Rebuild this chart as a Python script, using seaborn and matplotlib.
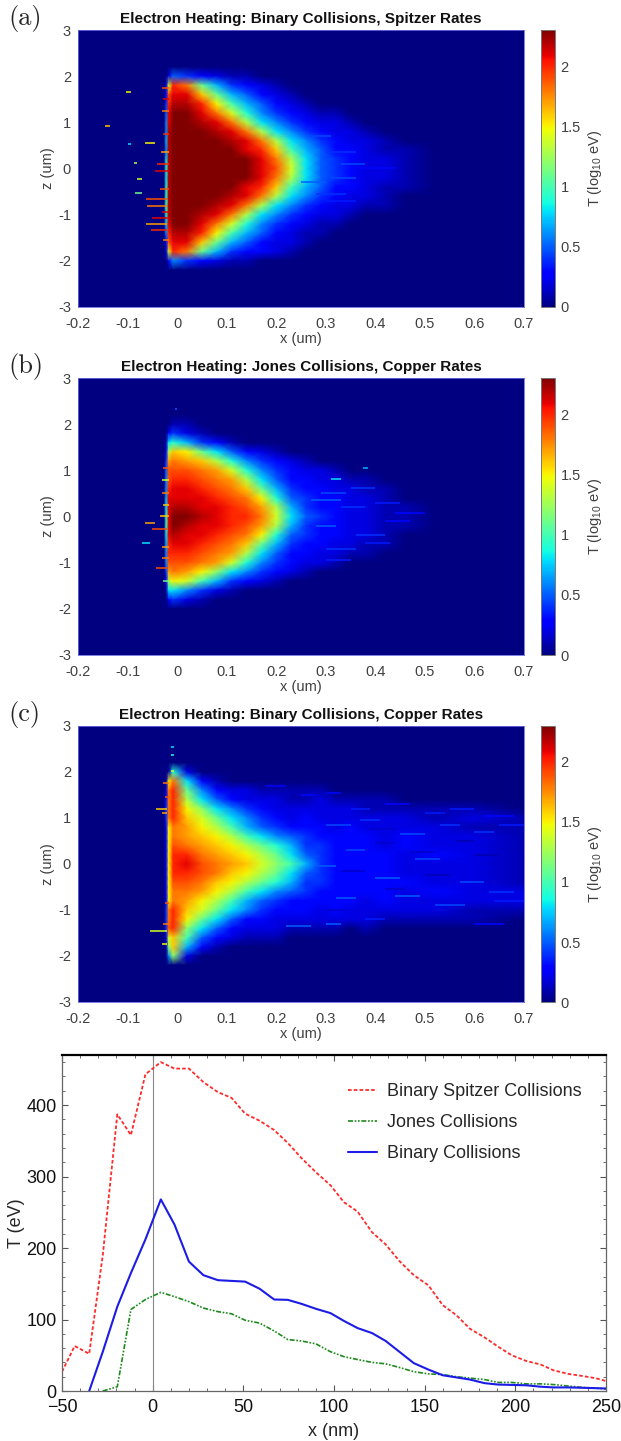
import matplotlib
matplotlib.use("Agg")
import matplotlib.pyplot as plt
import numpy as np
import seaborn as sns

W, H = 621, 1441

# Heatmap grid (x in um, z in um), values are log10 T in tenths
x_cols = [-0.2, -0.026, -0.022, -0.017, -0.008, 0.02, 0.05, 0.08, 0.11, 0.14, 0.17, 0.2,
          0.23, 0.26, 0.29, 0.32, 0.35, 0.38, 0.42, 0.46, 0.52, 0.6, 0.7]
z_rows = [3, 2.2, 2.0, 1.8, 1.6, 1.4, 1.2, 1.0, 0.8, 0.6, 0.4, 0.2, 0,
          -0.2, -0.4, -0.6, -0.8, -1.0, -1.2, -1.4, -1.6, -1.8, -2.0, -2.2, -3]

T_a = [
    [0] * 23,
    [0] * 23,
    [0, 0, 0, 2, 5, 4, 3, 2, 1, 1, 0, 0, 0, 0, 0, 0, 0, 0, 0, 0, 0, 0, 0],
    [0, 0, 2, 14, 20, 18, 11, 7, 4, 3, 2, 1, 0, 0, 0, 0, 0, 0, 0, 0, 0, 0, 0],
    [0, 0, 3, 19, 21, 21, 16, 11, 7, 5, 3, 2, 1, 0, 0, 0, 0, 0, 0, 0, 0, 0, 0],
    [0, 0, 4, 20, 22, 22, 20, 15, 10, 7, 5, 3, 2, 1, 0, 0, 0, 0, 0, 0, 0, 0, 0],
    [0, 0, 5, 21, 23, 23, 21, 18, 14, 9, 6, 4, 3, 2, 1, 1, 0, 0, 0, 0, 0, 0, 0],
    [0, 0, 6, 21, 23, 23, 22, 21, 18, 13, 8, 6, 4, 3, 2, 2, 1, 0, 0, 0, 0, 0, 0],
    [0, 0, 6, 22, 23, 23, 23, 22, 21, 18, 13, 8, 6, 4, 3, 2, 2, 1, 0, 0, 0, 0, 0],
    [0, 0, 7, 22, 23, 23, 23, 23, 22, 21, 18, 13, 8, 6, 4, 3, 2, 2, 1, 0, 0, 0, 0],
    [0, 0, 6, 22, 23, 23, 23, 23, 23, 21, 20, 16, 10, 7, 5, 3, 3, 2, 1, 1, 0, 0, 0],
    [0, 0, 8, 22, 23, 23, 23, 23, 23, 23, 21, 18, 13, 8, 5, 4, 3, 2, 2, 1, 0, 0, 0],
    [0, 0, 9, 22, 23, 23, 23, 23, 23, 23, 21, 19, 14, 8, 5, 4, 3, 2, 2, 1, 0, 0, 0],
    [0, 0, 8, 22, 23, 23, 23, 23, 23, 23, 21, 18, 13, 8, 5, 4, 3, 2, 2, 1, 0, 0, 0],
    [0, 0, 9, 22, 23, 23, 23, 23, 23, 21, 20, 16, 10, 7, 5, 3, 3, 2, 1, 1, 0, 0, 0],
    [0, 0, 9, 22, 23, 23, 23, 23, 22, 21, 18, 13, 8, 6, 4, 3, 2, 2, 1, 0, 0, 0, 0],
    [0, 0, 10, 22, 23, 23, 23, 22, 21, 18, 13, 8, 6, 4, 3, 2, 2, 1, 1, 0, 0, 0, 0],
    [0, 0, 9, 22, 23, 23, 22, 21, 18, 13, 8, 6, 4, 3, 2, 2, 1, 0, 0, 0, 0, 0, 0],
    [0, 0, 7, 21, 23, 23, 21, 18, 14, 9, 6, 4, 3, 2, 1, 1, 0, 0, 0, 0, 0, 0, 0],
    [0, 0, 6, 20, 22, 22, 20, 15, 10, 7, 5, 3, 2, 1, 1, 0, 0, 0, 0, 0, 0, 0, 0],
    [0, 0, 3, 19, 21, 21, 16, 11, 7, 5, 3, 2, 2, 1, 0, 0, 0, 0, 0, 0, 0, 0, 0],
    [0, 0, 2, 14, 20, 18, 11, 7, 4, 3, 3, 2, 1, 0, 0, 0, 0, 0, 0, 0, 0, 0, 0],
    [0, 0, 0, 3, 6, 4, 3, 2, 1, 1, 0, 0, 0, 0, 0, 0, 0, 0, 0, 0, 0, 0, 0],
    [0] * 23,
    [0] * 23,
]

T_b = [
    [0] * 23,
    [0] * 23,
    [0, 0, 0, 0, 1, 1, 0, 0, 0, 0, 0, 0, 0, 0, 0, 0, 0, 0, 0, 0, 0, 0, 0],
    [0, 0, 0, 3, 4, 2, 1, 0, 0, 0, 0, 0, 0, 0, 0, 0, 0, 0, 0, 0, 0, 0, 0],
    [0, 0, 1, 8, 9, 7, 4, 3, 1, 0, 0, 0, 0, 0, 0, 0, 0, 0, 0, 0, 0, 0, 0],
    [0, 0, 3, 13, 16, 15, 11, 8, 5, 3, 2, 1, 0, 0, 0, 0, 0, 0, 0, 0, 0, 0, 0],
    [0, 0, 4, 17, 18, 17, 16, 13, 9, 6, 4, 3, 2, 1, 0, 0, 0, 0, 0, 0, 0, 0, 0],
    [0, 0, 5, 19, 19, 19, 18, 17, 14, 9, 6, 4, 3, 2, 2, 1, 0, 0, 0, 0, 0, 0, 0],
    [0, 0, 6, 19, 20, 20, 19, 18, 17, 13, 8, 5, 3, 3, 2, 2, 1, 1, 0, 0, 0, 0, 0],
    [0, 0, 6, 20, 21, 21, 20, 19, 18, 16, 11, 7, 4, 3, 3, 2, 2, 1, 1, 0, 0, 0, 0],
    [0, 0, 7, 21, 21, 21, 21, 20, 19, 18, 15, 9, 5, 4, 3, 3, 2, 2, 1, 0, 0, 0, 0],
    [0, 0, 8, 21, 22, 22, 21, 21, 20, 19, 17, 13, 7, 4, 3, 3, 2, 2, 1, 1, 0, 0, 0],
    [0, 0, 9, 21, 23, 23, 22, 21, 20, 20, 18, 14, 8, 5, 4, 3, 2, 2, 1, 1, 0, 0, 0],
    [0, 0, 10, 21, 23, 22, 21, 21, 20, 19, 17, 13, 7, 4, 3, 3, 2, 2, 1, 1, 0, 0, 0],
    [0, 0, 8, 21, 22, 21, 21, 20, 19, 18, 15, 9, 5, 4, 3, 3, 2, 2, 1, 0, 0, 0, 0],
    [0, 0, 7, 20, 21, 21, 20, 19, 18, 16, 11, 7, 4, 3, 3, 2, 2, 1, 1, 0, 0, 0, 0],
    [0, 0, 6, 20, 20, 20, 19, 18, 17, 13, 8, 5, 3, 3, 2, 2, 1, 1, 0, 0, 0, 0, 0],
    [0, 0, 6, 19, 19, 19, 18, 17, 14, 9, 6, 4, 3, 2, 2, 1, 0, 0, 0, 0, 0, 0, 0],
    [0, 0, 4, 17, 18, 17, 15, 12, 8, 6, 4, 3, 2, 1, 0, 0, 0, 0, 0, 0, 0, 0, 0],
    [0, 0, 3, 13, 15, 14, 10, 7, 4, 3, 2, 1, 0, 0, 0, 0, 0, 0, 0, 0, 0, 0, 0],
    [0, 0, 1, 8, 8, 6, 4, 2, 1, 0, 0, 0, 0, 0, 0, 0, 0, 0, 0, 0, 0, 0, 0],
    [0, 0, 0, 3, 4, 2, 1, 0, 0, 0, 0, 0, 0, 0, 0, 0, 0, 0, 0, 0, 0, 0, 0],
    [0] * 23,
    [0] * 23,
    [0] * 23,
]

T_c = [
    [0] * 23,
    [0] * 23,
    [0, 0, 0, 1, 9, 2, 0, 0, 0, 0, 0, 0, 0, 0, 0, 0, 0, 0, 0, 0, 0, 0, 0],
    [0, 0, 1, 15, 18, 8, 3, 1, 0, 0, 0, 0, 0, 0, 0, 0, 0, 0, 0, 0, 0, 0, 0],
    [0, 0, 2, 18, 20, 11, 6, 3, 2, 2, 1, 1, 1, 1, 1, 0, 0, 0, 0, 0, 0, 0, 0],
    [0, 0, 3, 18, 20, 13, 8, 5, 3, 2, 2, 2, 1, 1, 2, 1, 1, 1, 1, 0, 0, 0, 0],
    [0, 0, 4, 18, 20, 15, 12, 8, 6, 4, 3, 2, 2, 2, 2, 2, 2, 1, 1, 1, 1, 1, 0],
    [0, 0, 4, 18, 20, 16, 14, 11, 8, 6, 4, 3, 2, 3, 2, 2, 2, 2, 2, 2, 1, 2, 1],
    [0, 0, 3, 15, 18, 17, 15, 13, 10, 7, 5, 4, 3, 3, 3, 2, 3, 2, 2, 2, 2, 1, 1],
    [0, 0, 3, 15, 18, 17, 16, 15, 13, 10, 8, 6, 5, 4, 3, 3, 3, 3, 2, 3, 2, 2, 1],
    [0, 0, 3, 15, 19, 18, 17, 16, 15, 13, 11, 9, 7, 4, 4, 3, 3, 3, 2, 3, 2, 2, 1],
    [0, 0, 3, 15, 20, 20, 18, 17, 16, 15, 13, 11, 8, 5, 4, 3, 3, 3, 3, 2, 3, 2, 1],
    [0, 0, 3, 15, 20, 21, 19, 18, 17, 16, 14, 12, 10, 7, 4, 3, 3, 3, 3, 2, 2, 2, 1],
    [0, 0, 3, 15, 20, 20, 19, 18, 16, 15, 13, 11, 8, 5, 4, 3, 3, 3, 3, 2, 2, 2, 1],
    [0, 0, 3, 15, 19, 19, 18, 16, 15, 13, 11, 9, 7, 4, 4, 3, 3, 3, 3, 3, 2, 2, 1],
    [0, 0, 3, 15, 18, 18, 17, 15, 13, 10, 8, 6, 5, 4, 3, 3, 3, 3, 3, 2, 3, 2, 2],
    [0, 0, 3, 15, 18, 17, 15, 13, 10, 7, 5, 4, 3, 3, 3, 3, 3, 2, 3, 2, 2, 2, 2],
    [0, 0, 4, 18, 20, 16, 14, 11, 8, 6, 4, 3, 3, 3, 2, 3, 2, 2, 2, 2, 2, 1, 1],
    [0, 0, 4, 18, 20, 15, 11, 8, 5, 3, 3, 2, 2, 2, 2, 2, 2, 2, 1, 1, 1, 1, 0],
    [0, 0, 4, 19, 20, 12, 8, 5, 3, 2, 2, 2, 1, 1, 1, 1, 0, 1, 0, 0, 0, 0, 0],
    [0, 0, 2, 14, 16, 10, 5, 3, 2, 1, 1, 1, 0, 0, 0, 0, 0, 0, 0, 0, 0, 0, 0],
    [0, 0, 1, 12, 16, 7, 3, 1, 0, 0, 0, 0, 0, 0, 0, 0, 0, 0, 0, 0, 0, 0, 0],
    [0, 0, 0, 6, 12, 2, 0, 0, 0, 0, 0, 0, 0, 0, 0, 0, 0, 0, 0, 0, 0, 0, 0],
    [0] * 23,
    [0] * 23,
]

# Thin streaks on top of the smooth field: start x, end x, z, log10 T
streak_a_x0 = [-0.103, -0.145, -0.1, -0.065, -0.088, -0.08, -0.085, -0.063, -0.06, -0.062, -0.052, -0.028, -0.04, -0.045, -0.035, -0.05, -0.03, -0.03, -0.028, -0.032, -0.03, -0.028, 0.27, 0.3, 0.33, 0.25, 0.28, 0.31, 0.22, 0.36, 0.3]
streak_a_x1 = [-0.093, -0.135, -0.094, -0.045, -0.08, -0.07, -0.07, -0.02, -0.02, -0.02, -0.02, -0.016, -0.016, -0.016, -0.016, -0.016, -0.016, -0.016, -0.016, -0.016, -0.016, -0.016, 0.31, 0.36, 0.38, 0.3, 0.34, 0.36, 0.22, 0.44, 0.36]
streak_a_z = [1.66, 0.91, 0.52, 0.56, 0.12, -0.22, -0.54, -0.66, -0.81, -1.2, -1.34, 1.5, 0.1, -0.05, -0.45, -1.08, 1.75, 1.25, 0.75, 0.35, -0.95, -1.55, 0.7, 0.35, 0.1, -0.3, -0.55, -0.2, 1.0, 0.02, -0.7]
streak_a_v = [1.5, 1.6, 0.8, 1.5, 1.3, 1.4, 1.1, 1.9, 1.8, 1.7, 2.0, 2.1, 2.0, 2.1, 1.9, 2.1, 1.9, 1.8, 2.0, 1.7, 2.1, 1.8, 0.45, 0.4, 0.45, 0.5, 0.4, 0.45, 0.5, 0.3, 0.35]

streak_b_x0 = [-0.065, -0.05, -0.07, -0.042, -0.03, -0.03, -0.035, -0.03, -0.028, -0.028, -0.03, -0.028, 0.31, 0.375, 0.29, 0.33, 0.28, 0.36, 0.3, 0.4, 0.35, 0.42, 0.27, 0.38, 0.3, 0.44, -0.005]
streak_b_x1 = [-0.045, -0.02, -0.055, -0.02, -0.016, -0.016, -0.016, -0.016, -0.016, -0.016, -0.016, -0.016, 0.33, 0.385, 0.34, 0.38, 0.32, 0.42, 0.36, 0.45, 0.4, 0.47, 0.33, 0.43, 0.35, 0.5, 0.0]
streak_b_z = [-0.14, -0.27, -0.58, -1.11, 0.78, 0.5, 0.02, -0.65, 1.05, 0.25, -0.9, -1.4, 0.82, 1.05, 0.5, 0.2, -0.2, -0.4, -0.7, 0.3, 0.62, -0.1, 0.35, -0.58, -0.95, 0.08, 2.33]
streak_b_v = [1.7, 1.9, 0.8, 1.9, 1.4, 1.8, 1.6, 1.7, 1.9, 1.6, 1.8, 1.1, 0.8, 0.7, 0.45, 0.4, 0.5, 0.4, 0.4, 0.35, 0.4, 0.3, 0.5, 0.35, 0.35, 0.3, 0.5]

streak_c_x0 = [-0.055, -0.042, -0.03, -0.012, -0.012, -0.012, -0.03, -0.028, -0.025, -0.025, -0.028, 0.3, 0.35, 0.42, 0.5, 0.55, 0.62, 0.3, 0.37, 0.45, 0.53, 0.6, 0.65, 0.28, 0.34, 0.4, 0.48, 0.57, 0.63, 0.32, 0.44, 0.52, 0.64, 0.3, 0.38, 0.6, 0.18, 0.25, 0.4, 0.47, 0.56, 0.33, 0.42, 0.5, 0.3, 0.39, 0.6, 0.22]
streak_c_x1 = [-0.02, -0.02, -0.02, -0.006, -0.006, -0.006, -0.02, -0.016, -0.016, -0.016, -0.016, 0.33, 0.39, 0.47, 0.54, 0.6, 0.68, 0.35, 0.41, 0.5, 0.57, 0.64, 0.7, 0.32, 0.38, 0.45, 0.53, 0.62, 0.68, 0.36, 0.49, 0.58, 0.7, 0.33, 0.42, 0.66, 0.22, 0.28, 0.44, 0.52, 0.6, 0.38, 0.46, 0.55, 0.34, 0.44, 0.65, 0.27]
streak_c_z = [-1.45, 1.2, 1.1, 2.55, 2.37, 2.03, -1.75, 1.75, 1.45, -0.85, -1.3, 1.55, 1.2, 1.3, 1.1, 1.2, 1.05, 0.85, 0.95, 0.65, 0.85, 0.7, 0.85, -0.05, 0.3, -0.3, 0.1, -0.4, -0.6, -0.75, -0.7, -0.9, -0.8, -1.3, -1.2, -1.3, 1.7, 1.5, 0.45, 0.25, 0.5, -0.15, -0.55, -0.25, -1.0, 0.75, 0.2, -1.35]
streak_c_v = [1.4, 1.6, 1.7, 0.8, 0.9, 1.4, 1.5, 1.8, 1.9, 1.9, 1.8, 0.3, 0.35, 0.3, 0.35, 0.35, 0.3, 0.45, 0.4, 0.45, 0.4, 0.4, 0.35, 0.5, 0.45, 0.5, 0.45, 0.45, 0.4, 0.5, 0.5, 0.45, 0.35, 0.5, 0.35, 0.3, 0.3, 0.3, 0.15, 0.15, 0.1, 0.15, 0.15, 0.1, 0.15, 0.15, 0.1, 0.5]

titles = ["Electron Heating: Binary Collisions, Spitzer Rates",
          "Electron Heating: Jones Collisions, Copper Rates",
          "Electron Heating: Binary Collisions, Copper Rates"]
letters = ["(a)", "(b)", "(c)"]
x_ticks = [-0.2, -0.1, 0, 0.1, 0.2, 0.3, 0.4, 0.5, 0.6, 0.7]
x_labels = ["-0.2", "-0.1", "0", "0.1", "0.2", "0.3", "0.4", "0.5", "0.6", "0.7"]
z_ticks = [3, 2, 1, 0, -1, -2, -3]
cbar_ticks = [0, 0.5, 1, 1.5, 2]
cbar_labels = ["0", "0.5", "1", "1.5", "2"]

# Lineouts
x_nm = [-50, -43, -35, -27.5, -19.5, -12, -4, 4.5, 12, 20, 28, 36, 43.5, 51, 59, 67, 74.5, 82, 90, 98,
        105.5, 113, 121, 128.5, 136, 144, 152, 160, 167.5, 175, 183, 190.5, 198, 206, 214, 221, 229, 237, 244, 250]
T_spitzer = [27, 63, 52, 190, 387, 358, 443, 460, 451, 451, 432, 418, 410, 388, 378, 365, 347, 326, 306, 288,
             264, 251, 222, 205, 182, 162, 148, 120, 106, 87, 75, 62, 50, 42, 37, 29, 24, 21, 18, 14]
T_jones = [np.nan, np.nan, np.nan, 0, 6, 114, 128, 138, 132, 125, 116, 111, 108, 99, 95, 84, 72, 70, 66, 55,
           48, 44, 40, 38, 33, 27, 24, 23, 20, 18, 16, 12, 12, 10, 10, 9, 7, 5, 4, 3]
T_binary = [np.nan, np.nan, 0, 55, 118, 165, 212, 268, 233, 181, 162, 155, 154, 153, 143, 128, 127.5, 122, 115, 109,
            98, 88, 81, 70, 55, 39, 30, 22, 19, 16, 11, 9, 8.5, 8, 6, 5, 5, 4.5, 4, 3.5]

sns.set_style("white")
plt.rcParams["font.family"] = ["Liberation Sans", "DejaVu Sans"]
plt.rcParams["mathtext.fontset"] = "custom"
plt.rcParams["mathtext.rm"] = "Liberation Sans"
plt.rcParams["mathtext.default"] = "rm"

cmap = plt.get_cmap("jet")
GRAY = "#404040"


def px_axes(fig, left, right, top, bottom):
    return fig.add_axes([left / W, 1 - bottom / H, (right - left) / W, (bottom - top) / H])


col_idx = np.arange(len(x_cols))
row_idx = np.arange(len(z_rows))
neg_z = -np.array(z_rows, dtype=float)


def col_of(x):
    return np.interp(x, x_cols, col_idx)


def row_of(z):
    return np.interp(-np.asarray(z, dtype=float), neg_z, row_idx)


def heat_panel(fig, T, streaks, title, letter, top, bottom):
    ax = px_axes(fig, 78, 524, top, bottom)
    cax = px_axes(fig, 541, 555, top, bottom)
    data = np.array(T, dtype=float) / 10
    sns.heatmap(data, ax=ax, cbar_ax=cax, cmap=cmap, vmin=0, vmax=2.3, shading="gouraud",
                xticklabels=False, yticklabels=False)
    # grid is not even, so the axes carry it through a function scale
    ax.set_xscale("function", functions=(lambda i: np.interp(i, col_idx, x_cols),
                                         lambda x: np.interp(x, x_cols, col_idx)))
    ax.set_yscale("function", functions=(lambda i: np.interp(i, row_idx, neg_z),
                                         lambda z: np.interp(z, neg_z, row_idx)))
    ax.set_xlim(0, len(x_cols) - 1)
    ax.set_ylim(len(z_rows) - 1, 0)

    x0, x1, zs, vs = streaks
    ax.hlines(row_of(zs), col_of(x0), col_of(x1), colors=cmap(np.array(vs) / 2.3), linewidth=1.1)

    ax.set_xticks(col_of(x_ticks), x_labels)
    ax.set_yticks(row_of(z_ticks), [str(t) for t in z_ticks])
    ax.minorticks_off()
    ax.tick_params(axis="x", length=0, labelsize=10.5, labelcolor=GRAY, pad=7)
    ax.tick_params(axis="y", length=0, labelsize=10.5, labelcolor=GRAY, pad=5)
    ax.set_xlabel("x (um)", fontsize=10.5, color=GRAY, labelpad=1)
    ax.set_ylabel("z (um)", fontsize=10.5, color=GRAY, labelpad=2)
    ax.set_title(title, fontsize=11, fontweight="bold", color="#111111", pad=5)
    for s in ax.spines.values():
        s.set_visible(True)
        s.set_color("#6a6ae0")
        s.set_linewidth(0.6)

    cb = ax.collections[0].colorbar
    cb.set_ticks(cbar_ticks, labels=cbar_labels)
    cb.ax.minorticks_off()
    cb.ax.tick_params(length=0, labelsize=10.5, labelcolor=GRAY, pad=4)
    cb.set_label("T (log$_{10}$ eV)", fontsize=10.5, color=GRAY, labelpad=4)
    cb.outline.set_visible(True)
    cb.outline.set_edgecolor("#777777")
    cb.outline.set_linewidth(0.7)

    fig.text(8 / W, 1 - (top - 12) / H, letter, family="cmr10", fontsize=19, va="center", ha="left")


fig = plt.figure(figsize=(W / 100, H / 100), dpi=100)

heat_panel(fig, T_a, (streak_a_x0, streak_a_x1, streak_a_z, streak_a_v), titles[0], letters[0], 30, 307)
heat_panel(fig, T_b, (streak_b_x0, streak_b_x1, streak_b_z, streak_b_v), titles[1], letters[1], 378, 655)
heat_panel(fig, T_c, (streak_c_x0, streak_c_x1, streak_c_z, streak_c_v), titles[2], letters[2], 726, 1002)

# Bottom lineout panel
ax = px_axes(fig, 62, 606, 1055, 1391)
ax.axvline(0, color="#888888", linewidth=0.8, zorder=1)
sns.lineplot(x=x_nm, y=T_spitzer, ax=ax, color="#ff2a2a", linewidth=1.3, linestyle=(0, (2, 1.2)),
             label="Binary Spitzer Collisions", estimator=None, sort=False)
sns.lineplot(x=x_nm, y=T_jones, ax=ax, color="#1c8a1c", linewidth=1.2, linestyle=(0, (3, 1, 1, 1, 1, 1)),
             label="Jones Collisions", estimator=None, sort=False)
sns.lineplot(x=x_nm, y=T_binary, ax=ax, color="#1c1ce6", linewidth=1.5,
             label="Binary Collisions", estimator=None, sort=False)
ax.set_xlim(-50, 250)
ax.set_ylim(0, 470)
ax.set_xticks([-50, 0, 50, 100, 150, 200, 250], ["−50", "0", "50", "100", "150", "200", "250"])
ax.set_yticks([0, 100, 200, 300, 400])
ax.set_xticks(np.arange(-50, 251, 10), minor=True)
ax.set_yticks(np.arange(0, 461, 20), minor=True)
ax.tick_params(which="major", direction="in", length=4, width=0.8, top=True, right=True, left=True, bottom=True,
               labelsize=13, color="#555555", labelcolor="#111111", pad=4)
ax.tick_params(axis="x", which="major", pad=6)
ax.tick_params(which="minor", direction="in", length=2, width=0.6, top=True, right=True, left=True, bottom=True,
               color="#555555")
ax.set_xlabel("x (nm)", fontsize=13, labelpad=5)
ax.set_ylabel("T (eV)", fontsize=13, labelpad=1)
for name, s in ax.spines.items():
    s.set_visible(True)
    s.set_color("#666666")
    s.set_linewidth(0.9)
ax.spines["top"].set_color("black")
ax.spines["top"].set_linewidth(1.6)
ax.legend(loc="upper left", bbox_to_anchor=((348 - 62) / 544, 1 - (1083 - 1055) / 336), frameon=False, fontsize=13,
          handlelength=1.6, handletextpad=0.55, labelspacing=0.78, borderpad=0, borderaxespad=0)

fig.savefig("out.png", dpi=100)
